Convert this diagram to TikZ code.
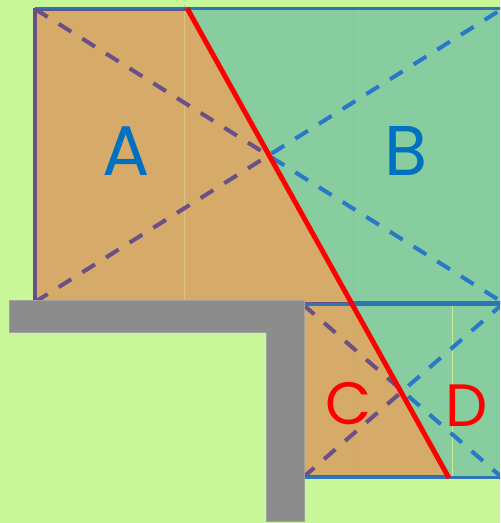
\documentclass[tikz,border=0pt]{standalone}
\usepackage{fontspec}
\setmainfont{Poppins}
\definecolor{bg}{HTML}{C8F799}
\definecolor{orng}{HTML}{D6AA68}
\definecolor{grn}{HTML}{88CDA0}
\definecolor{purp}{HTML}{6B5088}
\definecolor{blu}{HTML}{2A78C8}
\definecolor{edgeblu}{HTML}{2E75B6}
\definecolor{lblblu}{HTML}{0070C0}
\definecolor{wallgray}{HTML}{8C8C8C}
\definecolor{walledge}{HTML}{A0A0A0}
\definecolor{redline}{HTML}{FF0000}
\definecolor{faintA}{HTML}{D9C37E}
\definecolor{faintB}{HTML}{80C6A6}
\definecolor{faintC}{HTML}{CFA66C}
\definecolor{faintD}{HTML}{C4EE9C}
\begin{document}
\begin{tikzpicture}[x=0.02cm,y=-0.02cm,
  diag/.style={line width=2.3pt, dash pattern=on 8.5pt off 7.4pt},
  faint/.style={line width=0.57pt},
  edge/.style={line width=2.2pt},
  big/.style={font=\fontsize{40}{40}\selectfont, inner sep=0pt},
  small/.style={font=\fontsize{34}{34}\selectfont, inner sep=0pt}]
\useasboundingbox (0,0) rectangle (500,523);
\fill[bg] (0,0) rectangle (500,523);
\clip (0,0) rectangle (500,523);
% corners
\coordinate (uTL) at (35,9);
\coordinate (uTR) at (502,9);
\coordinate (uBR) at (502,302);
\coordinate (uBL) at (35,302);
\coordinate (lTL) at (303,304.5);
\coordinate (lTR) at (502,304.5);
\coordinate (lBR) at (502,477.5);
\coordinate (lBL) at (303,477.5);
\coordinate (rTop) at (187,8);
\coordinate (rBot) at (449,478);
% left side (orange)
\begin{scope}
  \clip (0,0) -- (182.5,0) -- (474.5,523) -- (0,523) -- cycle;
  \fill[orng] (uTL) rectangle (uBR);
  \fill[orng] (303,302) rectangle (lBR);
  \draw[faint, faintA] (184.5,5) -- (184.5,300);
  \draw[faint, faintC] (353,304) -- (353,477);
  \draw[diag, purp] (uTL) -- (uBR);
  \draw[diag, purp] (uBL) -- (uTR);
  \draw[diag, purp] (lTL) -- (lBR);
  \draw[diag, purp] (lBL) -- (lTR);
\end{scope}
% right side (green)
\begin{scope}
  \clip (182.5,0) -- (500,0) -- (500,523) -- (474.5,523) -- cycle;
  \fill[grn] (uTL) rectangle (uBR);
  \fill[grn] (303,302) rectangle (lBR);
  \draw[faint, faintB] (353,9) -- (353,300);
  \draw[faint, faintD] (452,304) -- (452,477);
  \draw[diag, blu] (uTL) -- (uBR);
  \draw[diag, blu] (uBL) -- (uTR);
  \draw[diag, blu] (lTL) -- (lBR);
  \draw[diag, blu] (lBL) -- (lTR);
\end{scope}
% edges
\draw[line width=2pt, edgeblu] (35,8.3) -- (502,8.3);
\draw[line width=1.2pt, purp] (35,10) -- (187,10);
\draw[edge, purp] (35.3,8) -- (35.3,301);
\draw[line width=1.4pt, edgeblu] (350,302.5) -- (502,302.5);
\draw[line width=0.85pt, purp] (303,302.3) -- (352,302.3);
\draw[edge, edgeblu] (lTL) -- (lTR);
\draw[line width=0.85pt, purp] (303,475.8) -- (448,475.8);
\draw[edge, edgeblu] (lBL) -- (lBR);
% red dividing line
\draw[line width=2.83pt, redline] (rTop) -- (rBot);
% wall
\filldraw[fill=wallgray, draw=walledge, line width=0.34pt]
  (9.5,300.5) -- (304,300.5) -- (304,521.5) -- (266,521.5) -- (266,332) -- (9.5,332) -- cycle;
% labels
\node[big, text=lblblu] (A) at (126,151.5) {A};
\node[big, text=lblblu] (B) at (406.5,151.5) {B};
\node[small, text=redline] (C) at (348.5,403.5) {C};
\node[small, text=redline] (D) at (466.5,405.5) {D};
\end{tikzpicture}
\end{document}
